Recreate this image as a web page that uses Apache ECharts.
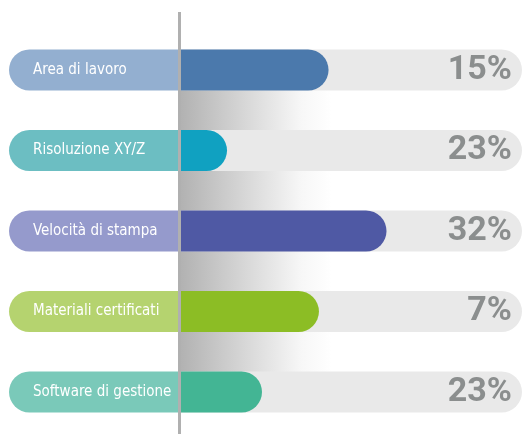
<!DOCTYPE html>
<html>
<head>
<meta charset="utf-8">
<script src="https://cdn.jsdelivr.net/npm/echarts@6/dist/echarts.min.js"></script>
<style>
  html, body { margin: 0; padding: 0; background: #fff; }
  #main { width: 523px; height: 434px; }
</style>
</head>
<body>
<div id="main"></div>
<script>
// categories and values
const categories = ['Area di lavoro', 'Risoluzione XY/Z', 'Velocità di stampa', 'Materiali certificati', 'Software di gestione'];
const barValues = [43.6, 14.0, 60.5, 40.8, 24.2];   // coloured bar length (0-100 of the track)
const pctLabels = ['15%', '23%', '32%', '7%', '23%'];
const pillColors = ['#93afd0', '#6cbec2', '#959acc', '#b5d36f', '#7ac9b9'];
const barColors = ['#4b79ac', '#10a1c1', '#4f59a4', '#8cbd25', '#43b594'];

const trackMax = 100;

const chart = echarts.init(document.getElementById('main'));

const option = {
  animation: false,
  grid: [
    { left: 179, right: 1, top: 29.75, bottom: 1.75 },
    { left: 9, width: 170, top: 29.75, bottom: 1.75 }
  ],
  xAxis: [
    { gridIndex: 0, type: 'value', min: 0, max: trackMax, show: false },
    { gridIndex: 1, type: 'value', min: 0, max: 1, show: false }
  ],
  yAxis: [
    { gridIndex: 0, type: 'category', data: categories, inverse: true, show: false },
    { gridIndex: 1, type: 'category', data: categories, inverse: true, show: false }
  ],
  graphic: [
    {
      // soft shadow next to the divider
      type: 'rect', z: 0, silent: true,
      shape: { x: 181, y: 88, width: 150, height: 286 },
      style: {
        fill: new echarts.graphic.LinearGradient(0, 0, 1, 0, [
          { offset: 0, color: '#b2b2b2' },
          { offset: 0.45, color: '#d9d9d9' },
          { offset: 0.8, color: '#f7f7f7' },
          { offset: 1, color: '#ffffff' }
        ])
      }
    },
    {
      type: 'line', z: 100, silent: true,
      shape: { x1: 179.5, y1: 12, x2: 179.5, y2: 434 },
      style: { stroke: '#b0b0b0', lineWidth: 3 }
    }
  ],
  series: [
    {
      // grey track with percentage
      type: 'bar', xAxisIndex: 0, yAxisIndex: 0,
      data: categories.map(() => trackMax),
      barWidth: 41,
      itemStyle: { color: '#e9e9e9', borderRadius: [0, 21, 21, 0] },
      label: {
        show: true, position: 'insideRight', distance: 10,
        formatter: p => pctLabels[p.dataIndex],
        fontFamily: 'Roboto', fontWeight: 'bold', fontSize: 34, color: '#8b8e8e'
      },
      z: 2
    },
    {
      type: 'bar', xAxisIndex: 0, yAxisIndex: 0,
      data: barValues.map((v, i) => ({ value: v, itemStyle: { color: barColors[i] } })),
      barWidth: 41, barGap: '-100%',
      itemStyle: { borderRadius: [0, 21, 21, 0] },
      z: 3
    },
    {
      // label pills on the left
      type: 'bar', xAxisIndex: 1, yAxisIndex: 1,
      data: categories.map((c, i) => ({ value: 1, itemStyle: { color: pillColors[i] } })),
      barWidth: 41,
      itemStyle: { borderRadius: [21, 0, 0, 21] },
      label: {
        show: true, position: 'insideLeft', distance: 24,
        formatter: p => categories[p.dataIndex],
        fontFamily: '"DejaVu Sans Condensed", sans-serif',
        fontSize: 15, color: '#ffffff'
      },
      z: 3
    }
  ]
};

chart.setOption(option);
</script>
</body>
</html>
